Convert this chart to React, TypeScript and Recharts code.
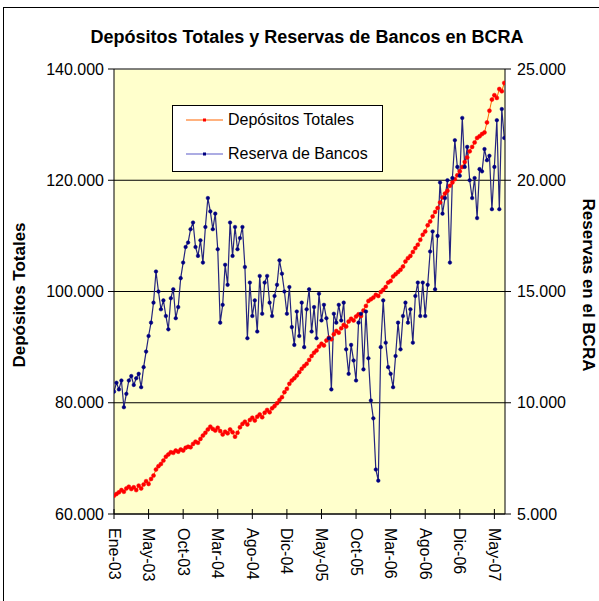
import React from "react";
import {
  LineChart,
  Line,
  XAxis,
  YAxis,
  CartesianGrid,
  ReferenceLine,
} from "recharts";

const FONT = '"Liberation Sans", Arial, sans-serif';

// tick labels on the category axis (one every STEP points)
const tickMonths = [
  "Ene-03", "May-03", "Oct-03", "Mar-04", "Ago-04", "Dic-04",
  "May-05", "Oct-05", "Mar-06", "Ago-06", "Dic-06", "May-07",
];
const STEP = 14;

// Depósitos Totales (miles de millones, left axis)
const depositos = [
  63.3, 63.6, 63.9, 64.3, 64.0, 64.6, 64.9, 64.5, 64.8, 64.3,
  65.1, 64.6, 65.3, 65.9, 65.4, 66.3, 66.9, 68.0, 68.6, 69.0,
  69.6, 70.3, 70.7, 71.1, 71.0, 71.4, 71.2, 71.6, 71.4, 71.9,
  72.1, 72.0, 72.6, 73.0, 72.8, 73.5, 74.1, 74.6, 75.2, 75.7,
  75.3, 75.0, 75.5, 74.9, 74.3, 74.8, 74.5, 75.2, 74.7, 73.9,
  74.6, 75.6, 76.2, 76.6, 76.1, 76.9, 77.3, 76.8, 77.5, 77.9,
  77.4, 78.2, 78.7, 78.3, 79.0, 79.4, 79.9, 80.5, 81.0, 81.9,
  82.5, 83.4, 84.0, 84.4, 84.9, 85.5, 86.1, 86.6, 87.0, 87.7,
  88.4, 89.0, 89.4, 90.1, 90.6, 90.3, 91.2, 91.7, 91.4, 92.3,
  92.9, 92.6, 93.4, 94.0, 93.7, 94.6, 95.1, 94.8, 95.5, 95.9,
  95.6, 96.6, 97.4, 98.3, 98.6, 98.9, 99.4, 99.2, 99.9, 100.3,
  100.8, 101.6, 101.9, 102.7, 103.1, 103.5, 103.9, 104.5, 105.4, 106.0,
  106.4, 107.1, 107.8, 108.4, 109.3, 110.2, 110.8, 111.9, 112.6, 113.5,
  114.3, 115.0, 116.0, 116.9, 117.6, 118.1, 119.0, 119.6, 120.2, 120.9,
  121.6, 122.4, 123.3, 124.1, 125.2, 126.0, 126.8, 127.6, 127.9, 128.3,
  128.6, 130.4, 132.5, 134.5, 135.3, 134.8, 136.4, 136.0, 137.5,
];

// Reserva de Bancos en BCRA (right axis)
const reservas = [
  10.5, 10.9, 10.6, 11.0, 9.8, 10.4, 11.0, 11.2, 10.8, 11.1,
  11.3, 10.7, 11.6, 12.3, 13.0, 13.6, 14.5, 15.9, 15.0, 14.2,
  14.6, 13.9, 13.3, 14.7, 15.1, 13.8, 14.3, 15.6, 16.3, 17.0,
  17.2, 17.8, 18.1, 17.0, 16.6, 17.3, 16.3, 17.9, 19.2, 18.6,
  17.8, 18.5, 16.9, 13.6, 14.4, 16.2, 15.3, 18.1, 16.6, 17.9,
  16.9, 17.4, 17.9, 16.1, 12.9, 15.4, 13.9, 14.6, 13.2, 15.7,
  14.0, 15.4, 15.7, 14.5, 13.9, 14.8, 15.3, 16.4, 15.8, 15.0,
  14.0, 15.2, 13.4, 12.6, 14.1, 13.0, 14.5, 12.5, 14.2, 15.1,
  13.2, 14.3, 12.9, 14.9, 13.7, 14.4, 13.8, 12.9, 10.6, 14.0,
  13.6, 14.4, 13.7, 14.5, 12.4, 11.3, 12.6, 11.9, 11.0, 13.6,
  14.0, 11.5, 14.1, 12.0, 10.1, 9.3, 7.0, 6.5, 12.5, 14.6,
  12.7, 11.6, 11.3, 10.7, 12.1, 13.6, 12.4, 13.9, 14.5, 13.6,
  14.2, 12.7, 14.8, 15.4, 13.9, 15.4, 13.9, 15.3, 16.8, 17.7,
  15.1, 17.5, 19.9, 18.5, 19.2, 20.0, 16.3, 20.1, 21.8, 20.6,
  20.2, 22.8, 20.6, 21.5, 20.0, 19.2, 20.1, 18.3, 20.5, 20.4,
  21.4, 20.9, 21.1, 18.7, 20.6, 22.7, 18.7, 23.2, 21.9,
];

const leftTicks = [60, 80, 100, 120, 140];
const rightTicks = [5, 10, 15, 20, 25];

const data = depositos.map((dep, i) => ({ i, dep, res: reservas[i] }));
const xTicks = tickMonths.map((_, k) => k * STEP);
const fmt = (v: number) => `${v}.000`;

// eslint-disable-next-line @typescript-eslint/no-explicit-any
const MonthTick = (props: any) => {
  const { x, y, payload } = props;
  const label = tickMonths[Math.round(payload.value / STEP)];
  const ty = y + 14;
  return (
    <g>
      <line x1={x} x2={x} y1={y - 5} y2={y + 5} stroke="#000" />
      <text
        x={x}
        y={ty}
        transform={`rotate(90 ${x} ${ty})`}
        textAnchor="start"
        dominantBaseline="central"
        fontSize={16}
        fontFamily={FONT}
        fill="#000"
      >
        {label}
      </text>
    </g>
  );
};

const LegendRow = ({ top, line, dot, text }: { top: number; line: string; dot: string; text: string }) => (
  <div style={{ position: "absolute", left: 0, top, height: 20, width: "100%" }}>
    <svg width={52} height={20} style={{ position: "absolute", left: 0, top: 0 }}>
      <line x1={13} x2={50} y1={10} y2={10} stroke={line} strokeWidth={1.2} />
      <rect x={30} y={8.5} width={3} height={3} fill={dot} />
    </svg>
    <span style={{ position: "absolute", left: 55, top: 0, lineHeight: "20px", whiteSpace: "nowrap" }}>{text}</span>
  </div>
);

export default function App() {
  return (
    <div
      style={{
        position: "fixed",
        left: 0,
        top: 0,
        width: 599,
        height: 601,
        overflow: "hidden",
        background: "#fff",
        fontFamily: FONT,
        color: "#000",
      }}
    >
      {/* outer chart frame */}
      <div style={{ position: "absolute", left: 3, top: 7, width: 640, height: 640, border: "1px solid #000" }} />

      <div style={{ position: "absolute", left: 0, top: 0 }}>
        <LineChart width={599} height={601} data={data} margin={{ top: 69, right: 0, bottom: 0, left: 0 }}>
          <CartesianGrid yAxisId="left" vertical={false} stroke="#000" fill="#FFFFCC" fillOpacity={1} />
          <XAxis
            dataKey="i"
            type="number"
            domain={[0, 158.3]}
            ticks={xTicks}
            interval={0}
            tick={<MonthTick />}
            tickLine={false}
            tickSize={0}
            tickMargin={0}
            height={87}
            axisLine={{ stroke: "#000" }}
            allowDataOverflow
          />
          <YAxis
            yAxisId="left"
            domain={[60, 140]}
            ticks={leftTicks}
            interval={0}
            width={114}
            tickFormatter={fmt}
            tick={{ fontSize: 16, fill: "#000", fontFamily: FONT }}
            axisLine={{ stroke: "#000" }}
            tickLine={{ stroke: "#000" }}
            tickSize={6}
            tickMargin={4}
          />
          <YAxis
            yAxisId="right"
            orientation="right"
            domain={[5, 25]}
            ticks={rightTicks}
            interval={0}
            width={94}
            tickFormatter={fmt}
            tick={{ fontSize: 16, fill: "#000", fontFamily: FONT }}
            axisLine={{ stroke: "#000" }}
            tickLine={{ stroke: "#000" }}
            tickSize={6}
            tickMargin={6}
          />
          <ReferenceLine yAxisId="left" y={140} stroke="#808080" />
          <Line
            yAxisId="left"
            dataKey="dep"
            stroke="#FF6600"
            strokeWidth={1}
            dot={{ r: 2, fill: "#FF0000", stroke: "#FF0000", strokeWidth: 0.5 }}
            activeDot={false}
            isAnimationActive={false}
          />
          <Line
            yAxisId="right"
            dataKey="res"
            stroke="#24247E"
            strokeWidth={1.2}
            dot={{ r: 1.8, fill: "#000080", stroke: "#000080", strokeWidth: 0.5 }}
            activeDot={false}
            isAnimationActive={false}
          />
        </LineChart>
      </div>

      {/* title */}
      <div
        style={{
          position: "absolute",
          left: 0,
          top: 27,
          width: 614,
          textAlign: "center",
          fontSize: 18,
          fontWeight: "bold",
          lineHeight: "20px",
          whiteSpace: "nowrap",
        }}
      >
        Depósitos Totales y Reservas de Bancos en BCRA
      </div>

      {/* axis titles */}
      <div
        style={{
          position: "absolute",
          left: 20,
          top: 295,
          transform: "translate(-50%, -50%) rotate(-90deg)",
          fontSize: 17,
          fontWeight: "bold",
          whiteSpace: "nowrap",
        }}
      >
        Depósitos Totales
      </div>
      <div
        style={{
          position: "absolute",
          left: 588,
          top: 285,
          transform: "translate(-50%, -50%) rotate(90deg)",
          fontSize: 17,
          fontWeight: "bold",
          whiteSpace: "nowrap",
        }}
      >
        Reservas en el BCRA
      </div>

      {/* legend */}
      <div
        style={{
          position: "absolute",
          left: 172,
          top: 105,
          width: 211,
          height: 67,
          boxSizing: "border-box",
          border: "1px solid #000",
          background: "#fff",
          fontSize: 16,
        }}
      >
        <LegendRow top={4} line="#FF6600" dot="#FF0000" text="Depósitos Totales" />
        <LegendRow top={38} line="#5A5AC8" dot="#000080" text="Reserva de Bancos" />
      </div>
    </div>
  );
}
